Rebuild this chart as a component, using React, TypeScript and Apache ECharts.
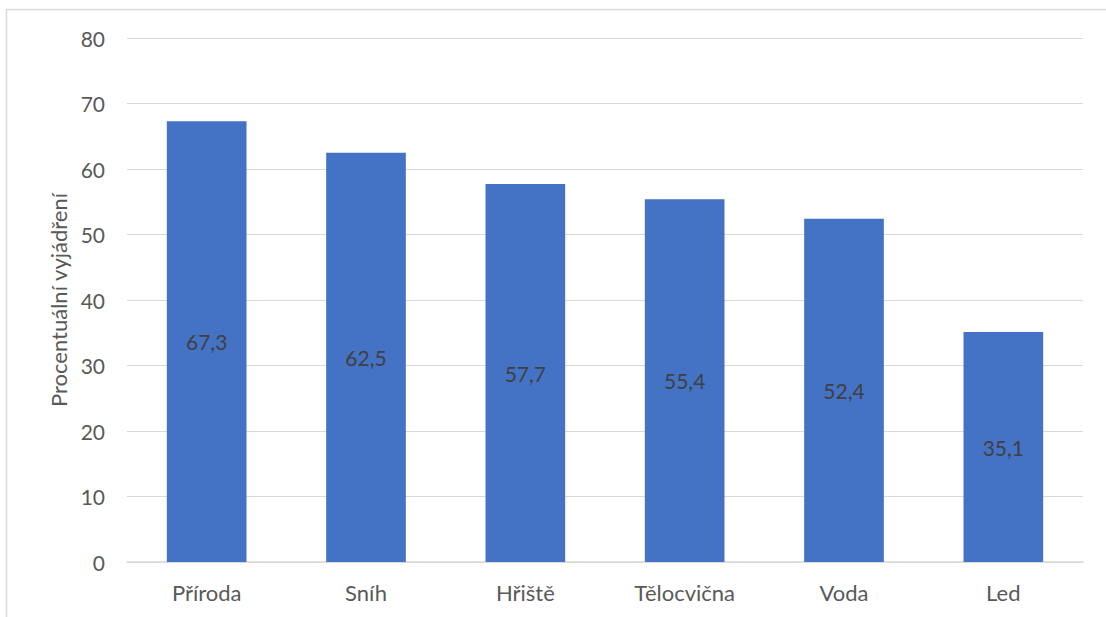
import React, { useEffect, useRef } from "react";
import * as echarts from "echarts";

const categories = ["Příroda", "Sníh", "Hřiště", "Tělocvična", "Voda", "Led"];
const values = [67.3, 62.5, 57.7, 55.4, 52.4, 35.1];
const yTicks = { min: 0, max: 80, interval: 10 };
const yAxisTitle = "Procentuální vyjádření";

const FONT = "Lato, 'Open Sans', sans-serif";

export default function App() {
  const ref = useRef<HTMLDivElement>(null);

  useEffect(() => {
    if (!ref.current) return;
    const chart = echarts.init(ref.current, undefined, { renderer: "svg" });
    chart.setOption({
      animation: false,
      backgroundColor: "#ffffff",
      textStyle: { fontFamily: FONT },
      graphic: [
        {
          type: "rect",
          shape: { x: 6.5, y: 9.5, width: 1120, height: 640 },
          style: { fill: "none", stroke: "#d9d9d9", lineWidth: 1.5 },
          silent: true,
          z: -1,
        },
      ],
      grid: { left: 127, right: 23, top: 38, bottom: 55 },
      xAxis: {
        type: "category",
        data: categories,
        axisLine: { lineStyle: { color: "#d9d9d9", width: 1.5 } },
        axisTick: { show: false },
        axisLabel: { color: "#595959", fontSize: 22, margin: 19, fontFamily: FONT },
      },
      yAxis: {
        type: "value",
        min: yTicks.min,
        max: yTicks.max,
        interval: yTicks.interval,
        name: yAxisTitle,
        nameLocation: "middle",
        nameGap: 56,
        nameRotate: 90,
        nameTextStyle: { color: "#595959", fontSize: 22, fontFamily: FONT },
        axisLine: { show: false },
        axisTick: { show: false },
        axisLabel: { color: "#595959", fontSize: 21, margin: 22, fontFamily: FONT },
        splitLine: { lineStyle: { color: "#d9d9d9", width: 1 } },
      },
      series: [
        {
          type: "bar",
          data: values,
          barCategoryGap: "50%",
          itemStyle: { color: "#4472c4" },
          label: {
            show: true,
            position: "inside",
            color: "#404040",
            fontSize: 21,
            fontFamily: FONT,
            formatter: (p: any) => String(p.value).replace(".", ","),
          },
        },
      ],
    });
    return () => chart.dispose();
  }, []);

  return (
    <div
      ref={ref}
      style={{ position: "fixed", left: 0, top: 0, width: 1106, height: 617 }}
    />
  );
}
